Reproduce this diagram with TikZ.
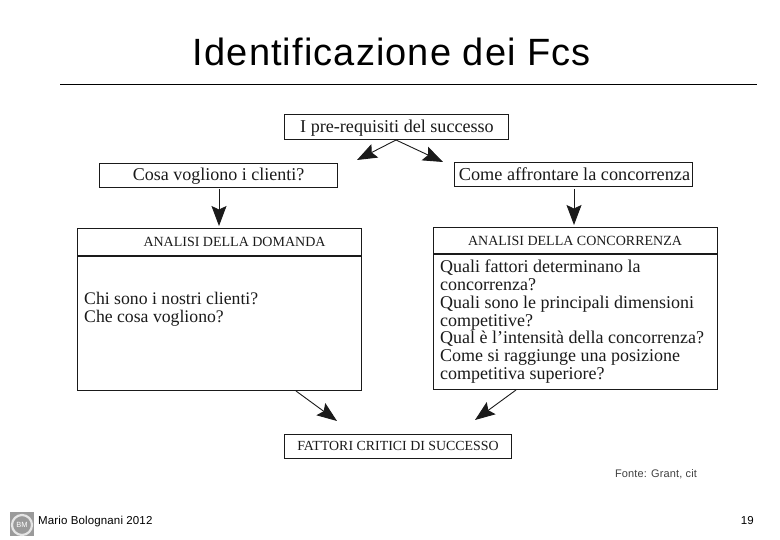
\documentclass[tikz,border=0pt]{standalone}
\usepackage{fontspec}
\setmainfont{Liberation Serif}
\setsansfont{Liberation Sans}
\usetikzlibrary{arrows.meta}
\definecolor{ink}{HTML}{1A1A1A}
\definecolor{logogray}{HTML}{9A9A9A}
\newfontfamily\titlefont[LetterSpace=2.9]{Liberation Sans}
\newfontfamily\smallfont[LetterSpace=1.2]{Liberation Sans}
\tikzset{
  x=1pt,y=-1pt,
  box/.style={draw=ink,line width=1.1pt,inner sep=0pt,anchor=north west},
  lbl/.style={inner sep=0pt,text=ink,font=\rmfamily},
  para/.style={lbl,anchor=north west,align=left},
  conn/.style={draw=ink,line width=.9pt,-{Stealth[length=20pt,width=15pt,inset=3.5pt,fill=ink]}},
  slide/.style={inner sep=0pt,text=black},
}
\begin{document}
\begin{tikzpicture}
\useasboundingbox (0,0) rectangle (780,540);
\node[slide,anchor=base,font=\titlefont\fontsize{38}{38}\selectfont] (title) at (392,66) {Identificazione dei Fcs};
\draw[black,line width=.9pt] (60,84) coordinate (ra) -- (757,84) coordinate (rb);

\node[box,minimum width=224pt,minimum height=25pt] (top) at (284,114) {};
\node[lbl,font=\rmfamily\fontsize{18.1}{18}\selectfont] (toplbl) at (397,128) {I pre-requisiti del successo};

\node[box,minimum width=238pt,minimum height=24pt] (cli) at (99,163) {};
\node[lbl,font=\rmfamily\fontsize{18}{20}\selectfont] (clilbl) at (218.5,176) {Cosa vogliono i clienti?};

\node[box,minimum width=238pt,minimum height=24pt] (con) at (454,162) {};
\node[lbl,font=\rmfamily\fontsize{18.25}{20}\selectfont] (conlbl) at (574.5,174) {Come affrontare la concorrenza};

\node[box,minimum width=284pt,minimum height=162pt] (dom) at (77,228) {};
\draw[ink,line width=1.1pt] (dom.north west |- 0,256) coordinate (d1) -- (dom.north east |- 0,256) coordinate (d2);
\node[lbl,font=\rmfamily\fontsize{14}{15}\selectfont] (domh) at (234.5,242) {ANALISI DELLA DOMANDA};
\node[para,font=\rmfamily\fontsize{17.7}{18}\selectfont] (domt) at (84,292.5) {Chi sono i nostri clienti?\\Che cosa vogliono?};

\node[box,minimum width=284pt,minimum height=162pt] (acon) at (433,227) {};
\draw[ink,line width=1.1pt] (acon.north west |- 0,254) coordinate (a1) -- (acon.north east |- 0,254) coordinate (a2);
\node[lbl,font=\rmfamily\fontsize{14}{15}\selectfont] (aconh) at (575,241) {ANALISI DELLA CONCORRENZA};
\node[para,font=\rmfamily\fontsize{18}{17.9}\selectfont] (acont) at (440,259.5) {Quali fattori determinano la\\concorrenza?\\Quali sono le principali dimensioni\\competitive?\\Qual è l’intensità della concorrenza?\\Come si raggiunge una posizione\\competitiva superiore?};

\node[box,minimum width=227pt,minimum height=24pt] (fat) at (284,434) {};
\node[lbl,font=\rmfamily\fontsize{13.9}{15}\selectfont] (fath) at (398,446) {FATTORI CRITICI DI SUCCESSO};

\coordinate (tl) at (357,160);
\coordinate (tr) at (443,162);
\coordinate (fl) at (337,421);
\coordinate (fr) at (475,420);
\coordinate (cs) at (396,140);
\draw[conn] (cs) -- (tl);
\draw[conn] (cs) -- (tr);
\draw[conn] (219,189) coordinate (c1) -- (219,226) coordinate (c2);
\draw[conn] (574,189) coordinate (c3) -- (574,225) coordinate (c4);
\draw[conn] (296,391) coordinate (c5) -- (fl);
\draw[conn] (516,390) coordinate (c6) -- (fr);

\node[slide,font=\smallfont\fontsize{11}{11}\selectfont,text=black!75] (src) at (656,474) {Fonte: Grant, cit};
\node[slide,anchor=base west,font=\smallfont\fontsize{11.5}{12}\selectfont] (auth) at (38,524.5) {Mario Bolognani 2012};
\node[slide,anchor=base east,font=\smallfont\fontsize{11.5}{12}\selectfont] (num) at (754,524.5) {19};

\fill[logogray] (10,512) rectangle (34,536);
\draw[white!90!black,line width=2.2pt] (22,525) circle (10pt);
\node[slide,font=\sffamily\fontsize{7.5}{7.5}\selectfont,text=white] (logo) at (22,525) {BM};
\end{tikzpicture}
\end{document}
